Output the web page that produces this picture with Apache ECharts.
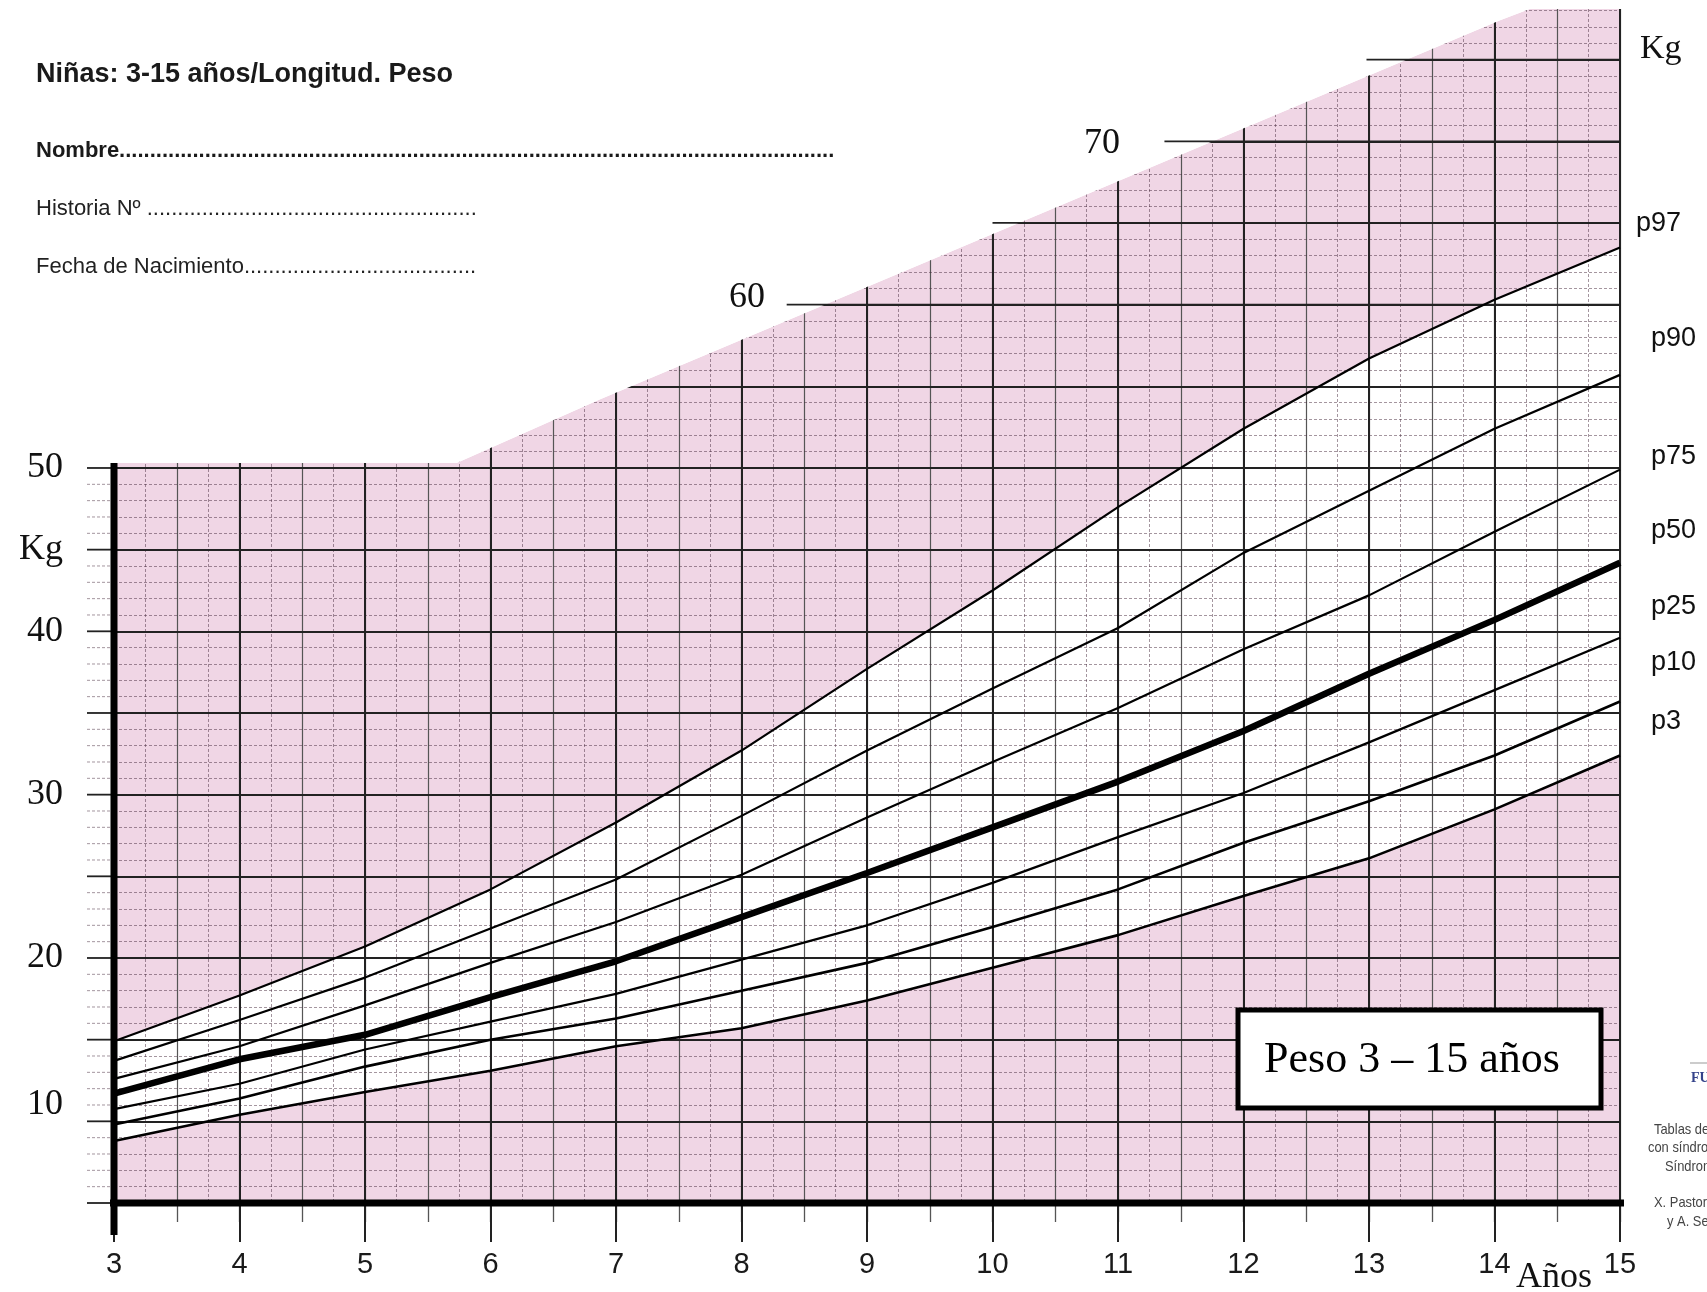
<!DOCTYPE html>
<html>
<head>
<meta charset="utf-8">
<title>Niñas: 3-15 años/Longitud. Peso</title>
<script src="https://cdn.jsdelivr.net/npm/echarts/dist/echarts.min.js"></script>
<style>
html, body { margin: 0; padding: 0; background: #fff; }
#chart { width: 1707px; height: 1292px; }
</style>
</head>
<body>
<div id="chart"></div>
<script>
// edades (años) y percentiles de peso (kg)
var ages = [3, 4, 5, 6, 7, 8, 9, 10, 11, 12, 13, 14, 15];
var p97 = [14.9, 17.7, 20.7, 24.2, 28.3, 32.7, 37.7, 42.5, 47.6, 52.4, 56.7, 60.3, 63.5];
var p90 = [13.7, 16.2, 18.8, 21.8, 24.8, 28.7, 32.7, 36.5, 40.2, 44.8, 48.6, 52.4, 55.7];
var p75 = [12.6, 14.6, 17.1, 19.7, 22.2, 25.1, 28.6, 32.0, 35.3, 38.9, 42.2, 46.1, 49.9];
var p50 = [11.7, 13.8, 15.3, 17.6, 19.8, 22.5, 25.2, 28.0, 30.8, 33.9, 37.4, 40.7, 44.2];
var p25 = [10.75, 12.3, 14.4, 16.1, 17.8, 19.9, 22.0, 24.6, 27.4, 30.1, 33.2, 36.4, 39.6];
var p10 = [9.8, 11.4, 13.35, 15.0, 16.3, 18.0, 19.7, 21.9, 24.2, 27.05, 29.6, 32.4, 35.7];
var p3 = [8.8, 10.4, 11.8, 13.1, 14.6, 15.7, 17.4, 19.4, 21.4, 23.8, 26.1, 29.1, 32.4];
var pctNames = ['p97', 'p90', 'p75', 'p50', 'p25', 'p10', 'p3'];

// borde superior de la cuadricula rosa
var edgeAges = [3, 5.73, 6.87, 14.04, 14.28, 15];
var edgeKg = [50.3, 50.3, 54.2, 77.4, 78.1, 78.1];

// lineas de 5 kg que asoman por la izquierda del borde
var stubKg = [60, 65, 70, 75];
var stubStart = [8.36, 10.0, 11.37, 12.98];

var PINK = '#f0d6e5';
var MINOR = 'rgba(70,40,60,0.55)';
var SERIF = '"Liberation Serif", "Times New Roman", serif';
var SANS = '"Liberation Sans", Arial, sans-serif';

function pairs(xs, ys) {
	return xs.map(function (x, i) { return [x, ys[i]]; });
}

// marcas a la izquierda del eje (1 kg), solo hasta 50
var leftTicks = [];
for (var k = 5; k <= 50; k++) leftTicks.push([3, k]);

// rellena con puntos hasta una x dada
var ctx = document.createElement('canvas').getContext('2d');
function dots(prefix, font, x0, x1) {
	ctx.font = font;
	var s = prefix;
	while (x0 + ctx.measureText(s + '.').width <= x1) s += '.';
	return s;
}
var fNombre = 'bold 22px ' + SANS;
var fLinea = '22px ' + SANS;

function curve(name, vals, width) {
	return {
		name: name, type: 'line', data: pairs(ages, vals), z: 8,
		symbol: 'none', smooth: false, silent: true,
		lineStyle: { color: '#000', width: width }
	};
}

function fill(xs, ys, color, origin, z) {
	return {
		type: 'line', data: pairs(xs, ys), z: z, symbol: 'none', silent: true,
		lineStyle: { width: 0, opacity: 0 },
		areaStyle: { color: color, opacity: 1, origin: origin }
	};
}

var pctY = [224, 339, 457, 531, 607, 663, 722];
var graphics = [
	{ type: 'text', x: 36, y: 75, style: { text: 'Niñas: 3-15 años/Longitud. Peso', font: 'bold 27px ' + SANS, fill: '#1a1a1a', verticalAlign: 'middle' } },
	{ type: 'text', x: 36, y: 151, style: { text: dots('Nombre', fNombre, 36, 836), font: fNombre, fill: '#1a1a1a', verticalAlign: 'middle' } },
	{ type: 'text', x: 36, y: 209, style: { text: dots('Historia Nº ', fLinea, 36, 478), font: fLinea, fill: '#222', verticalAlign: 'middle' } },
	{ type: 'text', x: 36, y: 267, style: { text: dots('Fecha de Nacimiento', fLinea, 36, 477), font: fLinea, fill: '#222', verticalAlign: 'middle' } },
	{ type: 'text', x: 765, y: 298, style: { text: '60', font: '36px ' + SERIF, fill: '#111', align: 'right', verticalAlign: 'middle' } },
	{ type: 'text', x: 1120, y: 144, style: { text: '70', font: '36px ' + SERIF, fill: '#111', align: 'right', verticalAlign: 'middle' } },
	{ type: 'text', x: 1640, y: 49, style: { text: 'Kg', font: '34px ' + SERIF, fill: '#111', verticalAlign: 'middle' } },
	{ type: 'text', x: 1516, y: 1278, style: { text: 'Años', font: '36px ' + SERIF, fill: '#111', verticalAlign: 'middle' } },
	{ type: 'rect', shape: { x: 1238, y: 1010, width: 363, height: 98 }, style: { fill: '#fff', stroke: '#000', lineWidth: 5 } },
	{ type: 'text', x: 1412, y: 1060, style: { text: 'Peso 3 – 15 años', font: '44px ' + SERIF, fill: '#000', align: 'center', verticalAlign: 'middle' } },
	{ type: 'line', shape: { x1: 1690, y1: 1063, x2: 1707, y2: 1063 }, style: { stroke: '#999', lineWidth: 1 } },
	{ type: 'text', x: 1691, y: 1078, style: { text: 'FU', font: 'bold 14px ' + SERIF, fill: '#34428a', verticalAlign: 'middle' } }
];
pctNames.forEach(function (n, i) {
	graphics.push({ type: 'text', x: i === 0 ? 1636 : 1651, y: pctY[i], style: { text: n, font: '27px ' + SANS, fill: '#111', verticalAlign: 'middle' } });
});
var credits = [['Tablas de', 1654, 1130], ['con síndro', 1648, 1148], ['Síndrom', 1665, 1167], ['X. Pastor,', 1654, 1203], ['y A. Se', 1667, 1222]];
credits.forEach(function (c) {
	graphics.push({ type: 'text', x: c[1], y: c[2], scaleX: 0.86, style: { text: c[0], font: '15px ' + SANS, fill: '#444', verticalAlign: 'middle' } });
});
graphics.forEach(function (g) { g.z = 20; g.silent = true; });

var option = {
	animation: false,
	backgroundColor: '#fff',
	grid: { left: 114, right: 87, top: 9, bottom: 89 },
	xAxis: [{
		type: 'value', min: 3, max: 15, interval: 1, position: 'bottom', z: 6,
		axisLine: { show: false },
		axisTick: { length: 39, lineStyle: { color: '#222', width: 2 } },
		axisLabel: { margin: 47, fontSize: 29, fontFamily: SANS, color: '#1a1a1a' },
		splitLine: { show: true, showMinLine: false, lineStyle: { color: '#222', width: 2 } }
	}, {
		type: 'value', min: 3, max: 15, interval: 0.5, position: 'bottom', z: 5,
		axisLine: { show: false },
		axisTick: { length: 19, lineStyle: { color: '#555', width: 1.3 } },
		axisLabel: { show: false },
		splitLine: { show: true, showMinLine: false, lineStyle: { color: '#555', width: 1.2 } },
		minorTick: { show: false, splitNumber: 2 },
		minorSplitLine: { show: true, lineStyle: { color: MINOR, width: 0.9, type: [3, 2] } }
	}],
	yAxis: {
		type: 'value', min: 5, max: 78.1, interval: 5, z: 6,
		axisLine: { show: false },
		axisTick: { show: false },
		axisLabel: {
			margin: 51, fontSize: 36, fontFamily: SERIF, color: '#111',
			showMaxLabel: false,
			formatter: function (v) {
				if (v === 45) return 'Kg';
				if (v === 10) return '{lo|10}';
				if (v >= 20 && v <= 50 && v % 10 === 0) return String(v);
				return '';
			},
			rich: { lo: { fontSize: 36, fontFamily: SERIF, color: '#111', padding: [0, 0, 34, 0] } }
		},
		splitLine: { show: true, showMaxLine: false, lineStyle: { color: '#222', width: 1.8 } },
		minorTick: { show: false, splitNumber: 5 },
		minorSplitLine: { show: true, lineStyle: { color: MINOR, width: 0.9, type: [3, 2] } }
	},
	graphic: { elements: graphics },
	series: [
		fill(edgeAges, edgeKg, PINK, 'start', 1),
		fill(ages, p97, '#fff', 'start', 2),
		fill(ages, p3, PINK, 'start', 3),
		fill(edgeAges, edgeKg, '#fff', 'end', 7),
		curve('p97', p97, 2.2),
		curve('p90', p90, 2.2),
		curve('p75', p75, 2.2),
		curve('p50', p50, 6.5),
		curve('p25', p25, 2.2),
		curve('p10', p10, 2.6),
		curve('p3', p3, 2.6),
		{
			type: 'custom', z: 8, clip: false, silent: true,
			data: pairs(stubStart, stubKg),
			renderItem: function (params, api) {
				var a = api.coord([api.value(0), api.value(1)]);
				var b = api.coord([15, api.value(1)]);
				return { type: 'line', shape: { x1: a[0], y1: a[1], x2: b[0], y2: b[1] }, style: { stroke: '#222', lineWidth: 1.8 } };
			}
		},
		{
			type: 'custom', z: 8, clip: false, silent: true,
			data: leftTicks,
			renderItem: function (params, api) {
				var v = api.value(1);
				var p = api.coord([api.value(0), v]);
				var major = v % 5 === 0;
				return {
					type: 'line',
					shape: { x1: p[0] - 27, y1: p[1], x2: p[0], y2: p[1] },
					style: { stroke: major ? '#222' : MINOR, lineWidth: major ? 1.8 : 0.9, lineDash: major ? null : [3, 2] }
				};
			}
		},
		// ejes gruesos
		{ type: 'line', z: 9, clip: false, symbol: 'none', silent: true, data: [[3, 50.3], [3, 3.04]], lineStyle: { color: '#000', width: 7 } },
		{ type: 'line', z: 9, clip: false, symbol: 'none', silent: true, data: [[2.825, 5], [15.04, 5]], lineStyle: { color: '#000', width: 7 } }
	]
};

var myChart = echarts.init(document.getElementById('chart'));
myChart.setOption(option);
window.onresize = myChart.resize;
</script>
</body>
</html>
